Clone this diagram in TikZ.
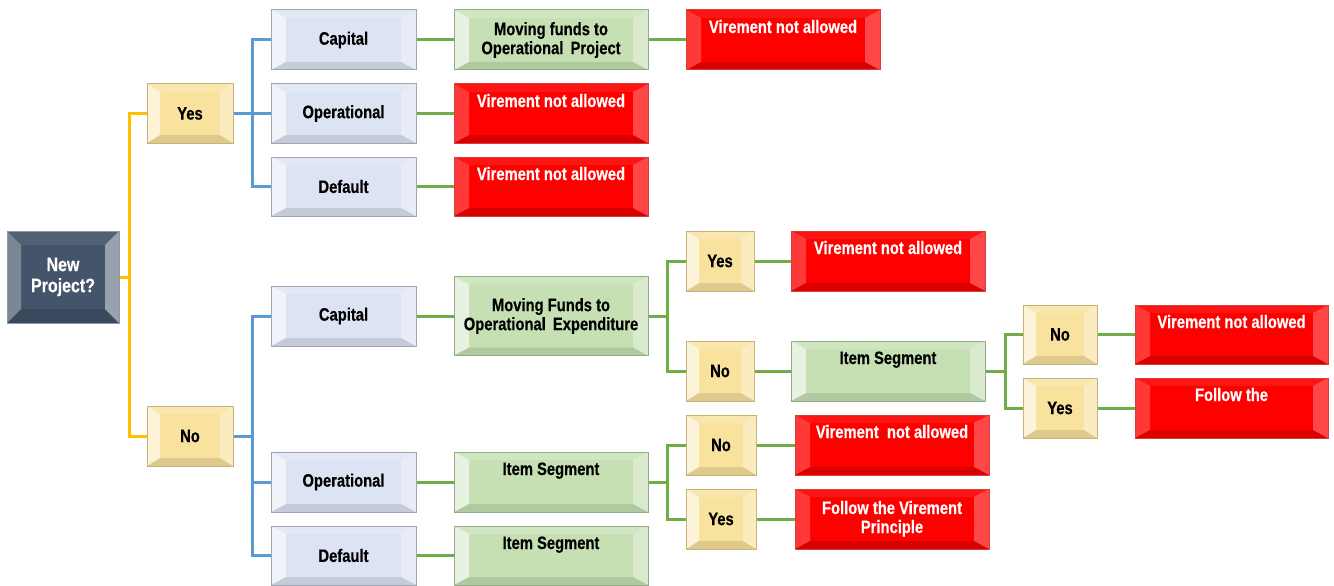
\documentclass[tikz,border=0pt]{standalone}
\usepackage{fontspec}
\setmainfont{Liberation Sans}[FakeStretch=0.82, BoldFeatures={FakeBold=0.35}]
\definecolor{slate}{HTML}{44546A}
\definecolor{slateb}{HTML}{8C97A8}
\definecolor{yel}{HTML}{F8E29E}
\definecolor{yelb}{HTML}{C8B27C}
\definecolor{blu}{HTML}{DCE3F2}
\definecolor{blub}{HTML}{9EA6B5}
\definecolor{grn}{HTML}{C6E0B4}
\definecolor{grnb}{HTML}{93AC85}
\definecolor{rd}{HTML}{FF0000}
\definecolor{rdb}{HTML}{D04040}
\definecolor{cy}{HTML}{FFC000}
\definecolor{cb}{HTML}{5B9BD5}
\definecolor{cg}{HTML}{70AD47}
\tikzset{
  bevel/.style n args={6}{path picture={
    \fill[white,opacity=#3] (path picture bounding box.north west) -- (path picture bounding box.south west) -- ([xshift=#1,yshift=#2]path picture bounding box.south west) -- ([xshift=#1,yshift=-#2]path picture bounding box.north west) -- cycle;
    \fill[white,opacity=#4] (path picture bounding box.north east) -- (path picture bounding box.south east) -- ([xshift=-#1,yshift=#2]path picture bounding box.south east) -- ([xshift=-#1,yshift=-#2]path picture bounding box.north east) -- cycle;
    \fill[white,opacity=#5] (path picture bounding box.north west) -- (path picture bounding box.north east) -- ([xshift=-#1,yshift=-#2]path picture bounding box.north east) -- ([xshift=#1,yshift=-#2]path picture bounding box.north west) -- cycle;
    \fill[black,opacity=#6] (path picture bounding box.south west) -- (path picture bounding box.south east) -- ([xshift=-#1,yshift=#2]path picture bounding box.south east) -- ([xshift=#1,yshift=#2]path picture bounding box.south west) -- cycle;
  }},
  box/.style={draw, line width=1pt, inner xsep=0pt, align=center,
    font=\fontsize{18}{19}\selectfont\bfseries, bevel={15pt}{8pt}{.6}{.35}{.18}{.10}},
  dark/.style={box, fill=slate, draw=slateb, text=white, minimum width=112pt, minimum height=92pt,
    font=\fontsize{19.5}{21}\selectfont\bfseries, bevel={14pt}{14pt}{.3}{.45}{.08}{.12}},
  ybox/.style={box, fill=yel, draw=yelb, minimum height=60pt, bevel={13pt}{8pt}{.6}{.35}{.18}{.10}},
  bbox/.style={box, fill=blu, draw=blub, minimum width=145pt, minimum height=60pt},
  gbox/.style={box, fill=grn, draw=grnb, minimum width=194pt, minimum height=60pt},
  rbox/.style={box, fill=rd, draw=rdb, text=white, minimum width=194pt, minimum height=60pt,
    bevel={15pt}{8pt}{.22}{.28}{.08}{.14}},
  topbox/.style={inner ysep=0pt, text height=23pt, text depth=37pt},
  yl/.style={draw=cy, line width=3pt},
  bl/.style={draw=cb, line width=3pt},
  gl/.style={draw=cg, line width=3pt},
}
\begin{document}
\begin{tikzpicture}[x=1pt,y=-1pt]
\useasboundingbox (0,0) rectangle (1334,586);
% nodes
\node[dark] (np) at (63,277) {New\\Project?};
\node[ybox, minimum width=86pt, minimum height=59pt] (yes1) at (190,113.5) {Yes};
\node[ybox, minimum width=86pt] (no1) at (190,436) {No};
\node[bbox] (cap1) at (343.5,40) {Capital};
\node[bbox, minimum height=59pt] (op1) at (343.5,113.5) {Operational};
\node[bbox, minimum height=59pt] (def1) at (343.5,186.5) {Default};
\node[gbox] (mf1) at (551,40) {Moving funds to\\Operational\ \,Project};
\node[rbox, topbox] (r1) at (783,40) {Virement not allowed};
\node[rbox, topbox, minimum height=59pt, text depth=36pt] (r2) at (551,113.5) {Virement not allowed};
\node[rbox, topbox, minimum height=59pt, text depth=36pt] (r3) at (551,186.5) {Virement not allowed};
\node[bbox] (cap2) at (343.5,316) {Capital};
\node[bbox] (op2) at (343.5,482) {Operational};
\node[bbox, minimum height=59pt] (def2) at (343.5,555.5) {Default};
\node[gbox, minimum height=79pt] (mf2) at (551,316) {Moving Funds to\\Operational\ \,Expenditure};
\node[ybox, minimum width=68pt] (yes2) at (720,261) {Yes};
\node[rbox, topbox] (r4) at (888,261) {Virement not allowed};
\node[ybox, minimum width=68pt] (no2) at (720,371) {No};
\node[gbox, topbox] (is1) at (888,371) {Item Segment};
\node[ybox, minimum width=74pt, minimum height=59pt] (no3) at (1060,334.5) {No};
\node[rbox, topbox, minimum width=193pt, minimum height=59pt, text depth=36pt] (r5) at (1231.5,334.5) {Virement not allowed};
\node[ybox, minimum width=74pt] (yes3) at (1060,408) {Yes};
\node[rbox, topbox, minimum width=193pt] (r6) at (1231.5,408) {Follow the};
\node[gbox, topbox] (is2) at (551,482) {Item Segment};
\node[gbox, topbox, minimum height=59pt, text depth=36pt] (is3) at (551,555.5) {Item Segment};
\node[ybox, minimum width=70pt] (no4) at (721,445) {No};
\node[rbox, topbox] (r7) at (892,445) {Virement\ \ not allowed};
\node[ybox, minimum width=70pt] (yes4) at (721,519) {Yes};
\node[rbox, topbox, text height=44pt, text depth=16pt] (r8) at (892,519) {Follow the Virement\\Principle};
% connectors
\draw[yl] (np.east) -- ++(10,0) |- (yes1.west);
\draw[yl] (np.east) -- ++(10,0) |- (no1.west);
\draw[bl] (yes1.east) -- ++(19,0) |- (cap1.west);
\draw[bl] (yes1.east) -- (op1.west);
\draw[bl] (yes1.east) -- ++(19,0) |- (def1.west);
\draw[bl] (no1.east) -- ++(19,0) |- (cap2.west);
\draw[bl] (no1.east) -- ++(19,0) |- (op2.west);
\draw[bl] (no1.east) -- ++(19,0) |- (def2.west);
\draw[gl] (cap1.east) -- (mf1.west);
\draw[gl] (mf1.east) -- (r1.west);
\draw[gl] (op1.east) -- (r2.west);
\draw[gl] (def1.east) -- (r3.west);
\draw[gl] (cap2.east) -- (mf2.west);
\draw[gl] (mf2.east) -- ++(19,0) |- (yes2.west);
\draw[gl] (mf2.east) -- ++(19,0) |- (no2.west);
\draw[gl] (yes2.east) -- (r4.west);
\draw[gl] (no2.east) -- (is1.west);
\draw[gl] (is1.east) -- ++(20,0) |- (no3.west);
\draw[gl] (is1.east) -- ++(20,0) |- (yes3.west);
\draw[gl] (no3.east) -- (r5.west);
\draw[gl] (yes3.east) -- (r6.west);
\draw[gl] (op2.east) -- (is2.west);
\draw[gl] (def2.east) -- (is3.west);
\draw[gl] (is2.east) -- ++(19,0) |- (no4.west);
\draw[gl] (is2.east) -- ++(19,0) |- (yes4.west);
\draw[gl] (no4.east) -- (r7.west);
\draw[gl] (yes4.east) -- (r8.west);
\end{tikzpicture}
\end{document}
